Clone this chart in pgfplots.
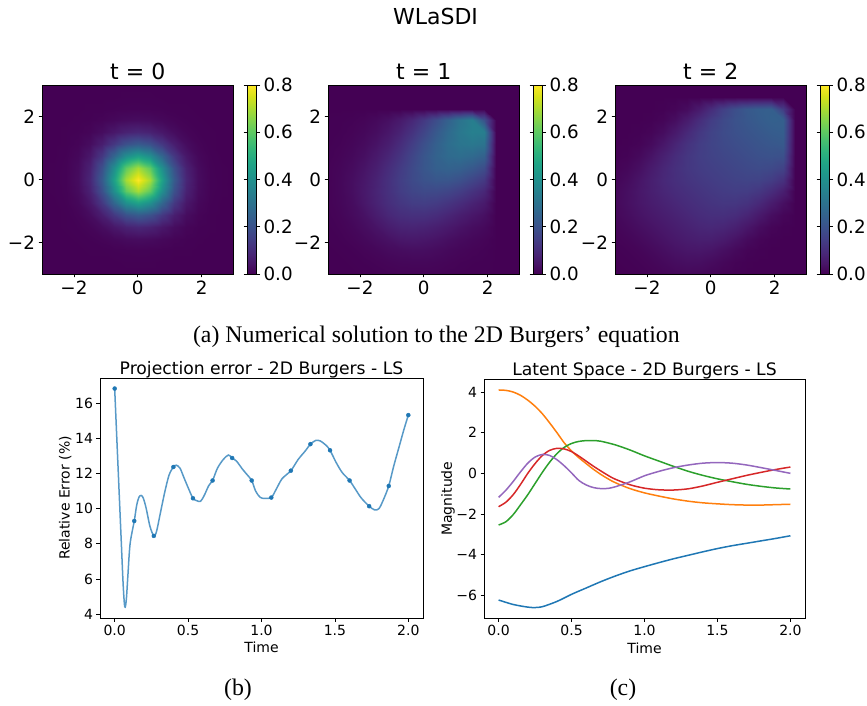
\documentclass[border=0pt]{standalone}
\usepackage{fontspec}
\setmainfont{DejaVu Sans}
\newfontfamily\capfont{Liberation Serif}
\usepackage{pgfplots}
\pgfplotsset{compat=1.18}
\definecolor{c0}{HTML}{1F77B4}
\definecolor{c1}{HTML}{FF7F0E}
\definecolor{c2}{HTML}{2CA02C}
\definecolor{c3}{HTML}{D62728}
\definecolor{c4}{HTML}{9467BD}
\pgfplotsset{
  heat/.style={
    view={0}{90}, scale only axis, width=191.5pt, height=189pt, anchor=south west,
    xmin=0, xmax=16, ymin=0, ymax=16, axis on top, colormap/viridis,
    point meta min=0, point meta max=0.8,
    xtick={2.6667,8,13.3333}, xticklabels={−2,0,2},
    ytick={2.6667,8,13.3333}, yticklabels={−2,0,2}, ztick=\empty,
    tick align=outside, xtick pos=left, ytick pos=left, major tick length=3.5pt,
    tick style={black, line width=0.8pt},
    tick label style={font=\fontsize{18.3}{20}\selectfont},
    axis line style={line width=0.8pt},
    title style={font=\fontsize{22}{24}\selectfont, at={(0.5,1)}, anchor=base, yshift=-1pt},
    colorbar,
    colorbar style={
      at={(parent axis.north east)}, anchor=north west, xshift=5pt, width=9.5pt,
      ytick={0,0.2,0.4,0.6,0.8}, yticklabels={0.0,0.2,0.4,0.6,0.8},
      tick align=outside, major tick length=3.5pt,
      tick style={black, line width=0.8pt},
      yticklabel style={font=\fontsize{18.3}{20}\selectfont},
      axis line style={line width=0.8pt},
    },
  },
  lineax/.style={
    scale only axis, anchor=south west,
    tick align=outside, xtick pos=left, ytick pos=left, major tick length=3.5pt,
    tick style={black, line width=0.8pt},
    tick label style={font=\fontsize{14}{16}\selectfont},
    label style={font=\fontsize{14}{16}\selectfont},
    title style={font=\fontsize{17.2}{19}\selectfont, at={(0.5,1)}, anchor=base, yshift=-2.5pt},
    axis line style={line width=0.8pt},
    xmin=-0.1, xmax=2.1,
    xtick={0,0.5,1,1.5,2}, xticklabels={0.0,0.5,1.0,1.5,2.0},
    xlabel={Time},
    xlabel style={at={(axis description cs:0.5,-0.124)}, anchor=center},
  },
}
\begin{document}
\begin{tikzpicture}
\path[use as bounding box] (0pt,0pt) rectangle (867pt,705pt);
\node[anchor=base, font=\fontsize{22}{24}\selectfont] at (435.5pt,680pt) {WLaSDI};

% ---------- t = 0 ----------
\begin{axis}[heat, at={(42pt,431pt)}, title={t = 0}]
\addplot3[surf, shader=interp, mesh/rows=17, mesh/cols=17] coordinates {
(0,0,0)(1,0,0)(2,0,0)(3,0,0)(4,0,0)(5,0,0)(6,0,0)(7,0,0)(8,0,0)(9,0,0)(10,0,0)(11,0,0)(12,0,0)(13,0,0)(14,0,0)(15,0,0)(16,0,0)

(0,1,0)(1,1,0)(2,1,0)(3,1,0)(4,1,0)(5,1,0)(6,1,0)(7,1,0.001)(8,1,0.001)(9,1,0.001)(10,1,0)(11,1,0)(12,1,0)(13,1,0)(14,1,0)(15,1,0)(16,1,0)

(0,2,0)(1,2,0)(2,2,0)(3,2,0)(4,2,0.001)(5,2,0.001)(6,2,0.003)(7,2,0.004)(8,2,0.005)(9,2,0.004)(10,2,0.003)(11,2,0.001)(12,2,0.001)(13,2,0)(14,2,0)(15,2,0)(16,2,0)

(0,3,0)(1,3,0)(2,3,0)(3,3,0.001)(4,3,0.003)(5,3,0.007)(6,3,0.014)(7,3,0.021)(8,3,0.024)(9,3,0.021)(10,3,0.014)(11,3,0.007)(12,3,0.003)(13,3,0.001)(14,3,0)(15,3,0)(16,3,0)

(0,4,0)(1,4,0)(2,4,0.001)(3,4,0.003)(4,4,0.009)(5,4,0.024)(6,4,0.048)(7,4,0.073)(8,4,0.084)(9,4,0.073)(10,4,0.048)(11,4,0.024)(12,4,0.009)(13,4,0.003)(14,4,0.001)(15,4,0)(16,4,0)

(0,5,0)(1,5,0)(2,5,0.001)(3,5,0.007)(4,5,0.024)(5,5,0.064)(6,5,0.129)(7,5,0.196)(8,5,0.226)(9,5,0.196)(10,5,0.129)(11,5,0.064)(12,5,0.024)(13,5,0.007)(14,5,0.001)(15,5,0)(16,5,0)

(0,6,0)(1,6,0)(2,6,0.003)(3,6,0.014)(4,6,0.048)(5,6,0.129)(6,6,0.260)(7,6,0.396)(8,6,0.456)(9,6,0.396)(10,6,0.260)(11,6,0.129)(12,6,0.048)(13,6,0.014)(14,6,0.003)(15,6,0)(16,6,0)

(0,7,0)(1,7,0.001)(2,7,0.004)(3,7,0.021)(4,7,0.073)(5,7,0.196)(6,7,0.396)(7,7,0.604)(8,7,0.695)(9,7,0.604)(10,7,0.396)(11,7,0.196)(12,7,0.073)(13,7,0.021)(14,7,0.004)(15,7,0.001)(16,7,0)

(0,8,0)(1,8,0.001)(2,8,0.005)(3,8,0.024)(4,8,0.084)(5,8,0.226)(6,8,0.456)(7,8,0.695)(8,8,0.800)(9,8,0.695)(10,8,0.456)(11,8,0.226)(12,8,0.084)(13,8,0.024)(14,8,0.005)(15,8,0.001)(16,8,0)

(0,9,0)(1,9,0.001)(2,9,0.004)(3,9,0.021)(4,9,0.073)(5,9,0.196)(6,9,0.396)(7,9,0.604)(8,9,0.695)(9,9,0.604)(10,9,0.396)(11,9,0.196)(12,9,0.073)(13,9,0.021)(14,9,0.004)(15,9,0.001)(16,9,0)

(0,10,0)(1,10,0)(2,10,0.003)(3,10,0.014)(4,10,0.048)(5,10,0.129)(6,10,0.260)(7,10,0.396)(8,10,0.456)(9,10,0.396)(10,10,0.260)(11,10,0.129)(12,10,0.048)(13,10,0.014)(14,10,0.003)(15,10,0)(16,10,0)

(0,11,0)(1,11,0)(2,11,0.001)(3,11,0.007)(4,11,0.024)(5,11,0.064)(6,11,0.129)(7,11,0.196)(8,11,0.226)(9,11,0.196)(10,11,0.129)(11,11,0.064)(12,11,0.024)(13,11,0.007)(14,11,0.001)(15,11,0)(16,11,0)

(0,12,0)(1,12,0)(2,12,0.001)(3,12,0.003)(4,12,0.009)(5,12,0.024)(6,12,0.048)(7,12,0.073)(8,12,0.084)(9,12,0.073)(10,12,0.048)(11,12,0.024)(12,12,0.009)(13,12,0.003)(14,12,0.001)(15,12,0)(16,12,0)

(0,13,0)(1,13,0)(2,13,0)(3,13,0.001)(4,13,0.003)(5,13,0.007)(6,13,0.014)(7,13,0.021)(8,13,0.024)(9,13,0.021)(10,13,0.014)(11,13,0.007)(12,13,0.003)(13,13,0.001)(14,13,0)(15,13,0)(16,13,0)

(0,14,0)(1,14,0)(2,14,0)(3,14,0)(4,14,0.001)(5,14,0.001)(6,14,0.003)(7,14,0.004)(8,14,0.005)(9,14,0.004)(10,14,0.003)(11,14,0.001)(12,14,0.001)(13,14,0)(14,14,0)(15,14,0)(16,14,0)

(0,15,0)(1,15,0)(2,15,0)(3,15,0)(4,15,0)(5,15,0)(6,15,0)(7,15,0.001)(8,15,0.001)(9,15,0.001)(10,15,0)(11,15,0)(12,15,0)(13,15,0)(14,15,0)(15,15,0)(16,15,0)

(0,16,0)(1,16,0)(2,16,0)(3,16,0)(4,16,0)(5,16,0)(6,16,0)(7,16,0)(8,16,0)(9,16,0)(10,16,0)(11,16,0)(12,16,0)(13,16,0)(14,16,0)(15,16,0)(16,16,0)
};
\end{axis}

% ---------- t = 1 ----------
\begin{axis}[heat, at={(328pt,431pt)}, title={t = 1}]
\addplot3[surf, shader=interp, mesh/rows=17, mesh/cols=17] coordinates {
(0,0,0)(1,0,0)(2,0,0)(3,0,0.001)(4,0,0.002)(5,0,0.004)(6,0,0.005)(7,0,0.005)(8,0,0.005)(9,0,0.005)(10,0,0.003)(11,0,0.002)(12,0,0.001)(13,0,0.001)(14,0,0)(15,0,0)(16,0,0)

(0,1,0)(1,1,0)(2,1,0.001)(3,1,0.003)(4,1,0.006)(5,1,0.009)(6,1,0.012)(7,1,0.013)(8,1,0.013)(9,1,0.011)(10,1,0.008)(11,1,0.005)(12,1,0.003)(13,1,0.002)(14,1,0)(15,1,0)(16,1,0)

(0,2,0)(1,2,0.001)(2,2,0.003)(3,2,0.008)(4,2,0.013)(5,2,0.020)(6,2,0.024)(7,2,0.028)(8,2,0.027)(9,2,0.022)(10,2,0.016)(11,2,0.011)(12,2,0.007)(13,2,0.004)(14,2,0)(15,2,0)(16,2,0)

(0,3,0.001)(1,3,0.003)(2,3,0.008)(3,3,0.015)(4,3,0.025)(5,3,0.035)(6,3,0.047)(7,3,0.051)(8,3,0.047)(9,3,0.040)(10,3,0.030)(11,3,0.021)(12,3,0.014)(13,3,0.008)(14,3,0)(15,3,0)(16,3,0)

(0,4,0.002)(1,4,0.006)(2,4,0.013)(3,4,0.025)(4,4,0.040)(5,4,0.060)(6,4,0.075)(7,4,0.079)(8,4,0.075)(9,4,0.065)(10,4,0.052)(11,4,0.038)(12,4,0.026)(13,4,0.017)(14,4,0)(15,4,0)(16,4,0)

(0,5,0.004)(1,5,0.009)(2,5,0.020)(3,5,0.035)(4,5,0.060)(5,5,0.085)(6,5,0.102)(7,5,0.110)(8,5,0.109)(9,5,0.099)(10,5,0.082)(11,5,0.063)(12,5,0.046)(13,5,0.031)(14,5,0)(15,5,0)(16,5,0)

(0,6,0.005)(1,6,0.012)(2,6,0.024)(3,6,0.047)(4,6,0.075)(5,6,0.102)(6,6,0.125)(7,6,0.141)(8,6,0.145)(9,6,0.137)(10,6,0.120)(11,6,0.099)(12,6,0.076)(13,6,0.054)(14,6,0)(15,6,0)(16,6,0)

(0,7,0.005)(1,7,0.013)(2,7,0.028)(3,7,0.051)(4,7,0.079)(5,7,0.110)(6,7,0.141)(7,7,0.165)(8,7,0.177)(9,7,0.176)(10,7,0.165)(11,7,0.144)(12,7,0.116)(13,7,0.087)(14,7,0)(15,7,0)(16,7,0)

(0,8,0.005)(1,8,0.013)(2,8,0.027)(3,8,0.047)(4,8,0.075)(5,8,0.109)(6,8,0.145)(7,8,0.177)(8,8,0.200)(9,8,0.213)(10,8,0.211)(11,8,0.194)(12,8,0.165)(13,8,0.132)(14,8,0)(15,8,0)(16,8,0)

(0,9,0.005)(1,9,0.011)(2,9,0.022)(3,9,0.040)(4,9,0.065)(5,9,0.099)(6,9,0.137)(7,9,0.176)(8,9,0.213)(9,9,0.240)(10,9,0.250)(11,9,0.242)(12,9,0.220)(13,9,0.186)(14,9,0)(15,9,0)(16,9,0)

(0,10,0.003)(1,10,0.008)(2,10,0.016)(3,10,0.030)(4,10,0.052)(5,10,0.082)(6,10,0.120)(7,10,0.165)(8,10,0.211)(9,10,0.250)(10,10,0.275)(11,10,0.284)(12,10,0.273)(13,10,0.246)(14,10,0)(15,10,0)(16,10,0)

(0,11,0.002)(1,11,0.005)(2,11,0.011)(3,11,0.021)(4,11,0.038)(5,11,0.063)(6,11,0.099)(7,11,0.144)(8,11,0.194)(9,11,0.242)(10,11,0.284)(11,11,0.310)(12,11,0.318)(13,11,0.304)(14,11,0)(15,11,0)(16,11,0)

(0,12,0.001)(1,12,0.003)(2,12,0.007)(3,12,0.014)(4,12,0.026)(5,12,0.046)(6,12,0.076)(7,12,0.116)(8,12,0.165)(9,12,0.220)(10,12,0.273)(11,12,0.318)(12,12,0.345)(13,12,0.340)(14,12,0)(15,12,0)(16,12,0)

(0,13,0.001)(1,13,0.002)(2,13,0.004)(3,13,0.008)(4,13,0.017)(5,13,0.031)(6,13,0.054)(7,13,0.087)(8,13,0.132)(9,13,0.186)(10,13,0.246)(11,13,0.304)(12,13,0.340)(13,13,0.200)(14,13,0)(15,13,0)(16,13,0)

(0,14,0)(1,14,0)(2,14,0)(3,14,0)(4,14,0)(5,14,0)(6,14,0)(7,14,0)(8,14,0)(9,14,0)(10,14,0)(11,14,0)(12,14,0)(13,14,0)(14,14,0)(15,14,0)(16,14,0)

(0,15,0)(1,15,0)(2,15,0)(3,15,0)(4,15,0)(5,15,0)(6,15,0)(7,15,0)(8,15,0)(9,15,0)(10,15,0)(11,15,0)(12,15,0)(13,15,0)(14,15,0)(15,15,0)(16,15,0)

(0,16,0)(1,16,0)(2,16,0)(3,16,0)(4,16,0)(5,16,0)(6,16,0)(7,16,0)(8,16,0)(9,16,0)(10,16,0)(11,16,0)(12,16,0)(13,16,0)(14,16,0)(15,16,0)(16,16,0)
};
\end{axis}

% ---------- t = 2 ----------
\begin{axis}[heat, at={(615pt,431pt)}, title={t = 2}]
\addplot3[surf, shader=interp, mesh/rows=17, mesh/cols=17] coordinates {
(0,0,0)(1,0,0)(2,0,0.002)(3,0,0.005)(4,0,0.009)(5,0,0.014)(6,0,0.016)(7,0,0.014)(8,0,0.009)(9,0,0.004)(10,0,0.001)(11,0,0)(12,0,0)(13,0,0)(14,0,0)(15,0,0)(16,0,0)

(0,1,0)(1,1,0.002)(2,1,0.005)(3,1,0.010)(4,1,0.017)(5,1,0.025)(6,1,0.030)(7,1,0.029)(8,1,0.022)(9,1,0.013)(10,1,0.005)(11,1,0.001)(12,1,0)(13,1,0)(14,1,0)(15,1,0)(16,1,0)

(0,2,0.002)(1,2,0.005)(2,2,0.010)(3,2,0.018)(4,2,0.028)(5,2,0.038)(6,2,0.045)(7,2,0.047)(8,2,0.042)(9,2,0.030)(10,2,0.017)(11,2,0.006)(12,2,0.002)(13,2,0)(14,2,0)(15,2,0)(16,2,0)

(0,3,0.005)(1,3,0.010)(2,3,0.018)(3,3,0.028)(4,3,0.039)(5,3,0.050)(6,3,0.060)(7,3,0.066)(8,3,0.066)(9,3,0.056)(10,3,0.039)(11,3,0.020)(12,3,0.008)(13,3,0.002)(14,3,0)(15,3,0)(16,3,0)

(0,4,0.009)(1,4,0.017)(2,4,0.028)(3,4,0.039)(4,4,0.050)(5,4,0.062)(6,4,0.073)(7,4,0.083)(8,4,0.088)(9,4,0.083)(10,4,0.069)(11,4,0.046)(12,4,0.024)(13,4,0.009)(14,4,0.002)(15,4,0)(16,4,0)

(0,5,0.014)(1,5,0.025)(2,5,0.038)(3,5,0.050)(4,5,0.062)(5,5,0.074)(6,5,0.086)(7,5,0.097)(8,5,0.105)(9,5,0.107)(10,5,0.099)(11,5,0.080)(12,5,0.053)(13,5,0.027)(14,5,0.010)(15,5,0)(16,5,0)

(0,6,0.016)(1,6,0.030)(2,6,0.045)(3,6,0.060)(4,6,0.073)(5,6,0.086)(6,6,0.098)(7,6,0.109)(8,6,0.119)(9,6,0.126)(10,6,0.125)(11,6,0.114)(12,6,0.090)(13,6,0.059)(14,6,0.030)(15,6,0)(16,6,0)

(0,7,0.014)(1,7,0.029)(2,7,0.047)(3,7,0.066)(4,7,0.083)(5,7,0.097)(6,7,0.109)(7,7,0.120)(8,7,0.130)(9,7,0.139)(10,7,0.144)(11,7,0.141)(12,7,0.127)(13,7,0.100)(14,7,0.066)(15,7,0)(16,7,0)

(0,8,0.009)(1,8,0.022)(2,8,0.042)(3,8,0.066)(4,8,0.088)(5,8,0.105)(6,8,0.119)(7,8,0.130)(8,8,0.140)(9,8,0.149)(10,8,0.157)(11,8,0.161)(12,8,0.158)(13,8,0.142)(14,8,0.112)(15,8,0)(16,8,0)

(0,9,0.004)(1,9,0.013)(2,9,0.030)(3,9,0.056)(4,9,0.083)(5,9,0.107)(6,9,0.126)(7,9,0.139)(8,9,0.149)(9,9,0.158)(10,9,0.167)(11,9,0.175)(12,9,0.180)(13,9,0.175)(14,9,0.158)(15,9,0)(16,9,0)

(0,10,0.001)(1,10,0.005)(2,10,0.017)(3,10,0.039)(4,10,0.069)(5,10,0.099)(6,10,0.125)(7,10,0.144)(8,10,0.157)(9,10,0.167)(10,10,0.176)(11,10,0.186)(12,10,0.195)(13,10,0.200)(14,10,0.195)(15,10,0)(16,10,0)

(0,11,0)(1,11,0.001)(2,11,0.006)(3,11,0.020)(4,11,0.046)(5,11,0.080)(6,11,0.114)(7,11,0.141)(8,11,0.161)(9,11,0.175)(10,11,0.186)(11,11,0.196)(12,11,0.207)(13,11,0.216)(14,11,0.222)(15,11,0)(16,11,0)

(0,12,0)(1,12,0)(2,12,0.002)(3,12,0.008)(4,12,0.024)(5,12,0.053)(6,12,0.090)(7,12,0.127)(8,12,0.158)(9,12,0.180)(10,12,0.195)(11,12,0.207)(12,12,0.218)(13,12,0.230)(14,12,0.235)(15,12,0)(16,12,0)

(0,13,0)(1,13,0)(2,13,0)(3,13,0.002)(4,13,0.009)(5,13,0.027)(6,13,0.059)(7,13,0.100)(8,13,0.142)(9,13,0.175)(10,13,0.200)(11,13,0.216)(12,13,0.230)(13,13,0.242)(14,13,0.240)(15,13,0)(16,13,0)

(0,14,0)(1,14,0)(2,14,0)(3,14,0)(4,14,0.002)(5,14,0.008)(6,14,0.022)(7,14,0.055)(8,14,0.100)(9,14,0.150)(10,14,0.190)(11,14,0.220)(12,14,0.235)(13,14,0.240)(14,14,0.140)(15,14,0)(16,14,0)

(0,15,0)(1,15,0)(2,15,0)(3,15,0)(4,15,0)(5,15,0)(6,15,0)(7,15,0)(8,15,0)(9,15,0)(10,15,0)(11,15,0)(12,15,0)(13,15,0)(14,15,0)(15,15,0)(16,15,0)

(0,16,0)(1,16,0)(2,16,0)(3,16,0)(4,16,0)(5,16,0)(6,16,0)(7,16,0)(8,16,0)(9,16,0)(10,16,0)(11,16,0)(12,16,0)(13,16,0)(14,16,0)(15,16,0)(16,16,0)
};
\end{axis}

\node[anchor=base, font=\capfont\fontsize{23.8}{26}\selectfont] at (436.4pt,362pt) {(a) Numerical solution to the 2D Burgers’ equation};

% ---------- (b) projection error ----------
\begin{axis}[lineax, at={(100pt,87pt)}, width=323pt, height=240pt,
  ymin=3.78, ymax=17.43, ytick={4,6,8,10,12,14,16}, yticklabels={4,6,8,10,12,14,16},
  title={Projection error - 2D Burgers - LS},
  ylabel={Relative Error (\%)},
  ylabel style={at={(axis description cs:-0.108,0.5)}, anchor=center}]
\addplot[c0, opacity=0.75, line width=1.5pt, smooth, tension=0.5] coordinates {
(0,16.83)(0.015,13.9)(0.03,11.0)(0.045,8.1)(0.057,5.8)(0.066,4.6)(0.072,4.4)(0.08,4.9)(0.09,6.2)(0.105,8.0)
(0.1333,9.3)(0.15,10.2)(0.165,10.65)(0.18,10.75)(0.195,10.6)(0.215,10.0)(0.24,9.0)(0.2667,8.45)(0.285,8.7)
(0.31,9.7)(0.34,10.9)(0.37,11.9)(0.40,12.37)(0.42,12.47)(0.445,12.3)(0.47,11.8)(0.50,11.2)(0.5333,10.59)
(0.56,10.45)(0.585,10.42)(0.61,10.75)(0.64,11.3)(0.6667,11.6)(0.70,12.3)(0.74,12.8)(0.775,13.05)(0.80,12.88)
(0.83,12.7)(0.87,12.25)(0.90,11.95)(0.9333,11.6)(0.96,11.0)(0.99,10.65)(1.02,10.58)(1.0667,10.63)(1.10,11.1)
(1.14,11.7)(1.2,12.16)(1.25,12.8)(1.30,13.3)(1.3333,13.67)(1.37,13.88)(1.40,13.85)(1.44,13.6)(1.4667,13.32)
(1.51,12.6)(1.55,12.05)(1.6,11.6)(1.64,11.1)(1.68,10.6)(1.7333,10.14)(1.77,9.93)(1.80,10.0)(1.83,10.5)
(1.8667,11.29)(1.90,12.4)(1.94,13.6)(1.97,14.5)(2.0,15.32)};
\addplot[only marks, mark=*, mark size=2pt, c0] coordinates {
(0,16.83)(0.1333,9.3)(0.2667,8.45)(0.4,12.37)(0.5333,10.59)(0.6667,11.6)(0.8,12.88)(0.9333,11.6)
(1.0667,10.63)(1.2,12.16)(1.3333,13.67)(1.4667,13.32)(1.6,11.6)(1.7333,10.14)(1.8667,11.29)(2.0,15.32)};
\end{axis}

% ---------- (c) latent space ----------
\begin{axis}[lineax, at={(484pt,86.7pt)}, width=321pt, height=239.3pt,
  ymin=-7.13, ymax=4.64, ytick={-6,-4,-2,0,2,4}, yticklabels={−6,−4,−2,0,2,4},
  title={Latent Space - 2D Burgers - LS},
  ylabel={Magnitude},
  ylabel style={at={(axis description cs:-0.112,0.5)}, anchor=center}]
\addplot[c0, line width=1.5pt, smooth] coordinates {
(0,-6.23)(0.1,-6.45)(0.2,-6.58)(0.25,-6.6)(0.3,-6.56)(0.4,-6.3)(0.5,-5.95)(0.6,-5.64)(0.7,-5.33)(0.8,-5.05)
(0.9,-4.8)(1.0,-4.59)(1.1,-4.39)(1.2,-4.2)(1.3,-4.03)(1.4,-3.86)(1.5,-3.7)(1.6,-3.56)(1.7,-3.44)(1.8,-3.32)
(1.9,-3.2)(2.0,-3.07)};
\addplot[c1, line width=1.5pt, smooth] coordinates {
(0,4.1)(0.05,4.08)(0.1,4.0)(0.15,3.84)(0.2,3.6)(0.25,3.3)(0.3,2.93)(0.35,2.48)(0.4,2.0)(0.45,1.5)(0.5,1.1)
(0.55,0.77)(0.6,0.48)(0.65,0.2)(0.7,-0.05)(0.75,-0.27)(0.8,-0.46)(0.9,-0.75)(1.0,-0.96)(1.1,-1.12)(1.2,-1.26)
(1.3,-1.37)(1.4,-1.45)(1.5,-1.5)(1.6,-1.54)(1.7,-1.56)(1.8,-1.56)(1.9,-1.54)(2.0,-1.52)};
\addplot[c2, line width=1.5pt, smooth] coordinates {
(0,-2.54)(0.05,-2.38)(0.1,-2.03)(0.15,-1.55)(0.2,-1.05)(0.25,-0.5)(0.3,0.05)(0.35,0.55)(0.4,0.97)(0.45,1.28)
(0.5,1.47)(0.55,1.57)(0.6,1.61)(0.65,1.61)(0.7,1.58)(0.8,1.4)(0.9,1.15)(1.0,0.86)(1.1,0.6)(1.2,0.34)(1.3,0.1)
(1.4,-0.1)(1.5,-0.27)(1.6,-0.41)(1.7,-0.54)(1.8,-0.64)(1.9,-0.72)(2.0,-0.77)};
\addplot[c3, line width=1.5pt, smooth] coordinates {
(0,-1.64)(0.05,-1.42)(0.1,-1.05)(0.15,-0.55)(0.2,0.0)(0.25,0.48)(0.3,0.88)(0.35,1.13)(0.4,1.23)(0.45,1.2)
(0.5,1.07)(0.55,0.85)(0.6,0.6)(0.65,0.35)(0.7,0.12)(0.75,-0.1)(0.8,-0.29)(0.9,-0.56)(1.0,-0.73)(1.1,-0.81)
(1.2,-0.82)(1.3,-0.76)(1.4,-0.62)(1.5,-0.44)(1.6,-0.27)(1.7,-0.1)(1.8,0.05)(1.9,0.19)(2.0,0.31)};
\addplot[c4, line width=1.5pt, smooth] coordinates {
(0,-1.18)(0.05,-0.83)(0.1,-0.4)(0.15,0.07)(0.2,0.5)(0.25,0.8)(0.3,0.93)(0.35,0.88)(0.4,0.67)(0.45,0.37)
(0.5,0.02)(0.55,-0.35)(0.6,-0.57)(0.65,-0.7)(0.7,-0.75)(0.75,-0.74)(0.8,-0.66)(0.9,-0.42)(1.0,-0.12)(1.1,0.1)
(1.2,0.28)(1.3,0.41)(1.4,0.5)(1.5,0.53)(1.6,0.5)(1.7,0.41)(1.8,0.28)(1.9,0.14)(2.0,0.0)};
\end{axis}

\node[anchor=base, font=\capfont\fontsize{23.8}{26}\selectfont] at (238pt,9.5pt) {(b)};
\node[anchor=base, font=\capfont\fontsize{23.8}{26}\selectfont] at (623pt,9.5pt) {(c)};
\end{tikzpicture}
\end{document}
